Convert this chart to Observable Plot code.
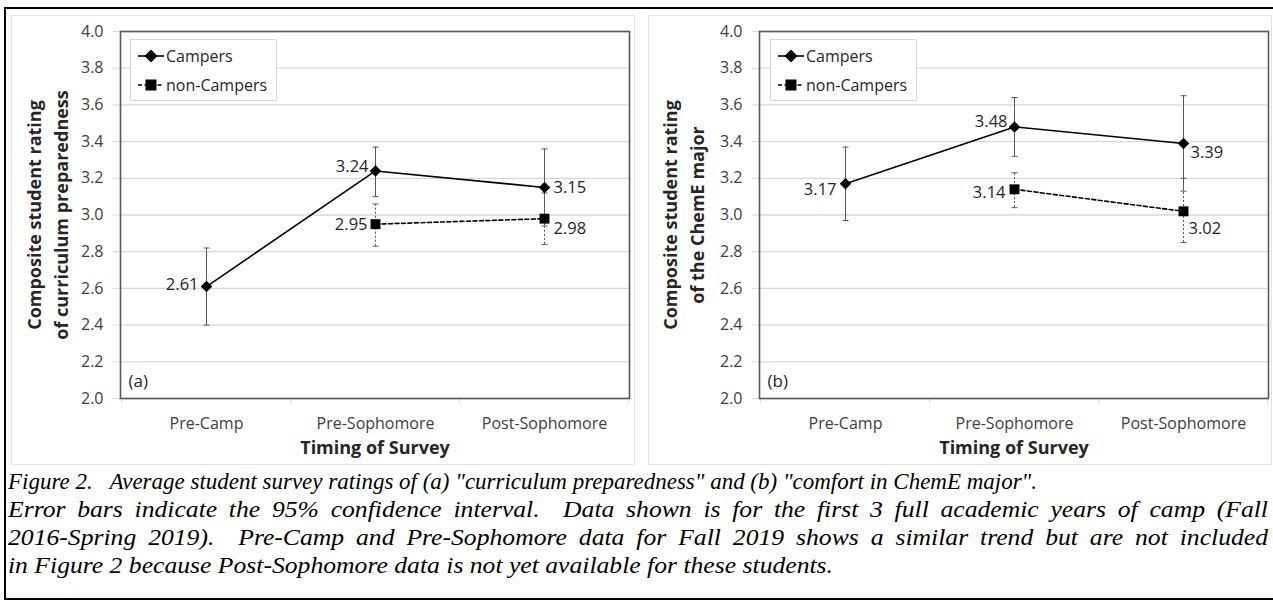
<!DOCTYPE html>
<html>
<head>
<meta charset="utf-8">
<script src="https://cdn.jsdelivr.net/npm/d3@7"></script>
<script src="https://cdn.jsdelivr.net/npm/@observablehq/plot@0.6"></script>
<style>
  html, body { margin: 0; padding: 0; background: #fff; }
  #page { position: relative; width: 1273px; height: 602px; overflow: hidden; font-family: "Open Sans", sans-serif; }
  #outer { position: absolute; left: 4px; top: 7px; width: 1275px; height: 593px; border: 2px solid #000; box-sizing: border-box; }
  .chartarea { position: absolute; border: 1px solid #e3e3e3; box-sizing: border-box; }
  .panel { position: absolute; top: 0; }
  .legend { position: absolute; background: #fff; border: 1px solid #d9d9d9; box-sizing: border-box; font-size: 16px; color: #262626; }
  .legend .row { position: absolute; left: 6px; height: 20px; display: flex; align-items: center; }
  .legend svg { display: block; }
  #caption { position: absolute; left: 8px; top: 467px; width: 1260px; font-family: "Liberation Serif", serif; font-style: italic; font-size: 24px; line-height: 28px; color: #000; }
  #caption div { height: 28px; white-space: nowrap; overflow: visible; }
  #caption span.fit { display: inline-block; white-space: pre; transform-origin: 0 50%; }
  #caption span.just { display: inline-block; white-space: pre-wrap; text-align: justify; text-align-last: justify; transform-origin: 0 50%; }
</style>
</head>
<body>
<div id="page">
  <div id="outer"></div>
  <div class="chartarea" style="left:11px; top:15px; width:624px; height:450px;"></div>
  <div class="chartarea" style="left:648px; top:15px; width:624px; height:450px;"></div>
  <div id="panelA" class="panel" style="left:0px;"></div>
  <div id="panelB" class="panel" style="left:636px;"></div>
  <div id="caption"></div>
</div>
<script>
// ---------- data ----------
const categories = ["Pre-Camp", "Pre-Sophomore", "Post-Sophomore"];
const nonCamperCategories = ["Pre-Sophomore", "Post-Sophomore"];
const yTickValues = [2.0, 2.2, 2.4, 2.6, 2.8, 3.0, 3.2, 3.4, 3.6, 3.8, 4.0];

// (a) curriculum preparedness
const campersA = [2.61, 3.24, 3.15];
const campersALow = [2.40, 3.10, 2.94];
const campersAHigh = [2.82, 3.37, 3.36];
const nonCampersA = [2.95, 2.98];
const nonCampersALow = [2.83, 2.84];
const nonCampersAHigh = [3.06, 3.12];

// (b) comfort in ChemE major
const campersB = [3.17, 3.48, 3.39];
const campersBLow = [2.97, 3.32, 3.13];
const campersBHigh = [3.37, 3.64, 3.65];
const nonCampersB = [3.14, 3.02];
const nonCampersBLow = [3.04, 2.85];
const nonCampersBHigh = [3.23, 3.20];

const seriesNames = ["Campers", "non-Campers"];
const yTitlesA = ["Composite student rating", "of curriculum preparedness"];
const yTitlesB = ["Composite student rating", "of the ChemE major"];
const xTitle = "Timing of Survey";
const captionLines = [
  "Figure 2.   Average student survey ratings of (a) \"curriculum preparedness\" and (b) \"comfort in ChemE major\".",
  "Error bars indicate the 95% confidence interval.  Data shown is for the first 3 full academic years of camp (Fall",
  "2016-Spring 2019).  Pre-Camp and Pre-Sophomore data for Fall 2019 shows a similar trend but are not included",
  "in Figure 2 because Post-Sophomore data is not yet available for these students."
];
// layout of caption lines (widths in px)
const captionFitWidths = [1029, null, null, 825];
const captionFullWidth = 1260;

// ---------- drawing ----------
const FONT = "Open Sans, sans-serif";
const capSymbol = { draw(ctx) { ctx.moveTo(-3, 0); ctx.lineTo(3, 0); } };

function panel(opts) {
  const C = categories.map((c, i) => ({cat: c, v: opts.camp[i], lo: opts.campLo[i], hi: opts.campHi[i]}));
  const N = nonCamperCategories.map((c, i) => ({cat: c, v: opts.non[i], lo: opts.nonLo[i], hi: opts.nonHi[i]}));
  const W = opts.width, H = 465;
  const ml = opts.marginLeft, mt = 31, mr = opts.marginRight, mb = 67;

  const boundaryTicks = (index, scales, values, dims) => {
    const g = d3.create("svg:g");
    const xs = categories.map(c => scales.x(c));
    const step = xs[1] - xs[0];
    const bounds = [xs[0] - step / 2, ...xs.map(x => x + step / 2)];
    const y0 = dims.height - dims.marginBottom;
    for (const b of bounds) {
      g.append("line").attr("x1", b).attr("x2", b).attr("y1", y0).attr("y2", y0 + 5)
        .attr("stroke", "#d9d9d9").attr("stroke-width", 1);
    }
    return g.node();
  };

  const labels = opts.labels.map(L => Plot.text(L.set === "c" ? [C[L.i]] : [N[L.i]], {
    x: "cat", y: "v", text: d => d.v.toFixed(2),
    textAnchor: L.anchor, dx: L.dx, dy: L.dy,
    fill: "#262626", fontSize: 16.5, fontFamily: FONT
  }));

  const svg = Plot.plot({
    width: W, height: H,
    marginLeft: ml, marginTop: mt, marginRight: mr, marginBottom: mb,
    style: {fontFamily: FONT, fontSize: "16px", color: "#404040", background: "transparent", overflow: "visible"},
    x: {type: "point", domain: categories, padding: 0.5, label: null, tickSize: 0, tickPadding: 19},
    y: {domain: [2, 4], ticks: yTickValues, tickFormat: d3.format(".1f"), label: null, tickSize: 7, tickPadding: 10},
    marks: [
      Plot.gridY(yTickValues, {stroke: "#d9d9d9", strokeOpacity: 1, strokeWidth: 1.3}),
      Plot.axisY({ticks: yTickValues, tickFormat: d3.format(".1f"), tickSize: 7, tickPadding: 10, stroke: "#d9d9d9", fill: "#404040", fontSize: 16, label: null}),
      Plot.axisX({tickSize: 0, tickPadding: 19, fill: "#404040", fontSize: 16, label: null}),
      boundaryTicks,
      Plot.frame({stroke: "#595959", strokeWidth: 1.6}),
      // error bars
      Plot.ruleX(N, {x: "cat", y1: "lo", y2: "hi", stroke: "#595959", strokeWidth: 1, strokeDasharray: "2,2"}),
      Plot.dot(N, {x: "cat", y: "lo", symbol: capSymbol, stroke: "#595959", strokeWidth: 1}),
      Plot.dot(N, {x: "cat", y: "hi", symbol: capSymbol, stroke: "#595959", strokeWidth: 1}),
      Plot.ruleX(C, {x: "cat", y1: "lo", y2: "hi", stroke: "#595959", strokeWidth: 1}),
      Plot.dot(C, {x: "cat", y: "lo", symbol: capSymbol, stroke: "#595959", strokeWidth: 1}),
      Plot.dot(C, {x: "cat", y: "hi", symbol: capSymbol, stroke: "#595959", strokeWidth: 1}),
      // series
      Plot.line(N, {x: "cat", y: "v", stroke: "#000", strokeWidth: 1.6, strokeDasharray: "4,2.5"}),
      Plot.line(C, {x: "cat", y: "v", stroke: "#000", strokeWidth: 1.6}),
      Plot.dot(N, {x: "cat", y: "v", symbol: "square", r: 5.6, fill: "#000", stroke: "none"}),
      Plot.dot(C, {x: "cat", y: "v", symbol: "diamond2", r: 5.2, fill: "#000", stroke: "none"}),
      ...labels,
      Plot.text([opts.tag], {frameAnchor: "bottom-left", dx: 8, dy: -12, fontSize: 17, fill: "#262626", fontFamily: FONT, textAnchor: "start"}),
      // y title
      Plot.text([opts.yTitle[0]], {frameAnchor: "left", dx: -(ml - 35), rotate: -90, textAnchor: "middle", lineAnchor: "middle", fontWeight: "bold", fontSize: 18, fill: "#262626", fontFamily: FONT}),
      Plot.text([opts.yTitle[1]], {frameAnchor: "left", dx: -(ml - 62), rotate: -90, textAnchor: "middle", lineAnchor: "middle", fontWeight: "bold", fontSize: 18, fill: "#262626", fontFamily: FONT}),
      // x title
      Plot.text([xTitle], {frameAnchor: "bottom", lineAnchor: "middle", dy: 50, fontWeight: "bold", fontSize: 18, fill: "#262626", fontFamily: FONT})
    ]
  });
  return svg;
}

function legend(left, top) {
  const el = document.createElement("div");
  el.className = "legend";
  el.style.left = left + "px"; el.style.top = top + "px";
  el.style.width = "147px"; el.style.height = "62px";
  const sym = [
    `<svg width="28" height="14"><line x1="1" x2="27" y1="7" y2="7" stroke="#000" stroke-width="1.6"/><path d="M14,0.5L20.5,7L14,13.5L7.5,7Z" fill="#000"/></svg>`,
    `<svg width="28" height="14"><line x1="1" x2="27" y1="7" y2="7" stroke="#000" stroke-width="1.6" stroke-dasharray="4,2.5"/><rect x="8.5" y="1.5" width="11" height="11" fill="#000"/></svg>`
  ];
  seriesNames.forEach((name, i) => {
    const r = document.createElement("div");
    r.className = "row";
    r.style.top = (i === 0 ? 6 : 35) + "px";
    r.innerHTML = sym[i] + `<span style="margin-left:1px">${name}</span>`;
    el.appendChild(r);
  });
  return el;
}

const labelsA = [
  {set: "c", i: 0, anchor: "end", dx: -8, dy: -2},
  {set: "c", i: 1, anchor: "end", dx: -7, dy: -4},
  {set: "c", i: 2, anchor: "start", dx: 9, dy: 0},
  {set: "n", i: 0, anchor: "end", dx: -8, dy: 1},
  {set: "n", i: 1, anchor: "start", dx: 9, dy: 10}
];
const labelsB = [
  {set: "c", i: 0, anchor: "end", dx: -9, dy: 6},
  {set: "c", i: 1, anchor: "end", dx: -7, dy: -5},
  {set: "c", i: 2, anchor: "start", dx: 7, dy: 9},
  {set: "n", i: 0, anchor: "end", dx: -9, dy: 3},
  {set: "n", i: 1, anchor: "start", dx: 5, dy: 17}
];

const pA = panel({camp: campersA, campLo: campersALow, campHi: campersAHigh,
  non: nonCampersA, nonLo: nonCampersALow, nonHi: nonCampersAHigh,
  labels: labelsA, tag: "(a)", yTitle: yTitlesA, width: 636, marginLeft: 120, marginRight: 7});
const pB = panel({camp: campersB, campLo: campersBLow, campHi: campersBHigh,
  non: nonCampersB, nonLo: nonCampersBLow, nonHi: nonCampersBHigh,
  labels: labelsB, tag: "(b)", yTitle: yTitlesB, width: 637, marginLeft: 123, marginRight: 5});
document.getElementById("panelA").appendChild(pA);
document.getElementById("panelB").appendChild(pB);
document.getElementById("page").appendChild(legend(130, 39));
document.getElementById("page").appendChild(legend(770, 39));

// caption: lines 1 and 4 fitted, lines 2-3 justified, sharing line 4's glyph width
const cap = document.getElementById("caption");
const rows = captionLines.map(t => {
  const d = document.createElement("div");
  const s = document.createElement("span");
  s.className = "fit";
  s.textContent = t;
  d.appendChild(s);
  cap.appendChild(d);
  return s;
});
const scales = rows.map((s, i) => captionFitWidths[i] ? captionFitWidths[i] / s.getBoundingClientRect().width : null);
const bodyScale = scales[3];
rows.forEach((s, i) => {
  if (scales[i]) {
    s.style.transform = `scaleX(${scales[i]})`;
  } else {
    s.className = "just";
    s.style.width = (captionFullWidth / bodyScale) + "px";
    s.style.transform = `scaleX(${bodyScale})`;
  }
});
</script>
</body>
</html>
